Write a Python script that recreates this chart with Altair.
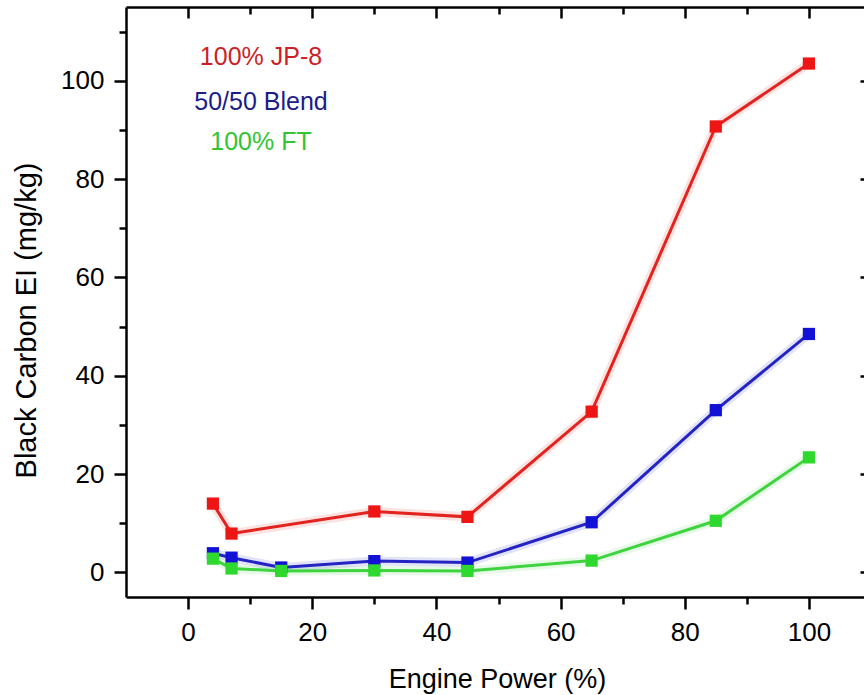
import altair as alt
import pandas as pd

FONT = "Liberation Sans"

fuels = ["100% JP-8", "50/50 Blend", "100% FT"]
line_colors = ["#e2231f", "#2424c4", "#3fd43f"]
marker_colors = ["#ee1515", "#1212d6", "#2ed82e"]
label_colors = ["#cc1f26", "#1c1c8a", "#33c433"]

power_jp8 = [4, 7, 30, 45, 65, 85, 100]
bc_jp8 = [14.0, 7.9, 12.4, 11.3, 32.7, 90.7, 103.5]
power_blend = [4, 7, 15, 30, 45, 65, 85, 100]
bc_blend = [3.9, 3.0, 1.0, 2.3, 2.0, 10.2, 33.0, 48.5]
power_ft = [4, 7, 15, 30, 45, 65, 85, 100]
bc_ft = [2.8, 0.8, 0.3, 0.4, 0.3, 2.4, 10.5, 23.4]

x_ticks = list(range(0, 111, 10))
y_ticks = list(range(0, 111, 10))
x_domain = [-10, 110]
y_domain = [-5, 115]

rows = []
for fuel, xs, ys in zip(fuels, [power_jp8, power_blend, power_ft], [bc_jp8, bc_blend, bc_ft]):
    for x, y in zip(xs, ys):
        rows.append({"fuel": fuel, "power": x, "bc": y})
df = pd.DataFrame(rows)

xscale = alt.Scale(domain=x_domain, range=[0, 745], nice=False, zero=False)
yscale = alt.Scale(domain=y_domain, nice=False, zero=False)

major_expr = "datum.value % 20 === 0"

bottom_axis = alt.Axis(
    values=x_ticks, grid=False,
    labelExpr=f"{major_expr} ? datum.label : ''",
    domainColor="black", domainWidth=2.5,
    tickColor="black", tickWidth=2.5,
    tickSize={"expr": f"{major_expr} ? 12 : 7"},
    labelFont=FONT, labelFontSize=26, labelColor="black", labelPadding=10,
    labelFlush=False, labelOverlap=False,
    title="Engine Power (%)", titleFont=FONT, titleFontSize=27,
    titleFontWeight="normal", titleColor="black",
    titleX=371, titleY=90, titleAlign="center", titleBaseline="alphabetic",
)
left_axis = alt.Axis(
    values=y_ticks, grid=False,
    labelExpr=f"{major_expr} ? datum.label : ''",
    domainColor="black", domainWidth=2.5,
    tickColor="black", tickWidth=2.5,
    tickSize={"expr": f"{major_expr} ? 12 : 7"},
    labelFont=FONT, labelFontSize=26, labelColor="black", labelPadding=10,
    labelFlush=False, labelOverlap=False,
    title="Black Carbon EI (mg/kg)", titleFont=FONT, titleFontSize=29,
    titleFontWeight="normal", titleColor="black",
    titleAngle=270, titleX=-91, titleY=313, titleAlign="center",
    titleBaseline="alphabetic",
)
top_axis = alt.Axis(
    orient="top", values=x_ticks, grid=False, labels=False, title="",
    domainColor="black", domainWidth=2.5,
    tickColor="black", tickWidth=2.5,
    tickSize={"expr": f"{major_expr} ? -11 : -7"},
)
right_axis = alt.Axis(
    orient="right", values=y_ticks, grid=False, labels=False, title="",
    domain=False, offset=7,
    tickColor="black", tickWidth=2.5,
    tickSize={"expr": f"{major_expr} ? -11 : -7"},
)

base = alt.Chart(df).encode(
    x=alt.X("power:Q", scale=xscale, axis=bottom_axis),
    y=alt.Y("bc:Q", scale=yscale, axis=left_axis),
)
stroke_enc = alt.Stroke("fuel:N", scale=alt.Scale(domain=fuels, range=line_colors), legend=None)
halo = base.mark_line(strokeWidth=9, opacity=0.13).encode(stroke=stroke_enc, detail="fuel:N")
lines = base.mark_line(strokeWidth=3).encode(stroke=stroke_enc, detail="fuel:N")
markers = base.mark_square(size=150, opacity=1, strokeWidth=0).encode(
    fill=alt.Fill("fuel:N", scale=alt.Scale(domain=fuels, range=marker_colors), legend=None)
)

legend_y = [58, 103, 143]
legend_layers = [
    alt.Chart(pd.DataFrame({"t": [f]})).mark_text(
        font=FONT, fontSize=25, align="center", baseline="alphabetic", color=c
    ).encode(x=alt.value(135), y=alt.value(yy), text="t:N")
    for f, c, yy in zip(fuels, label_colors, legend_y)
]

main = alt.layer(halo, lines, markers, *legend_layers)

frame = alt.Chart(df).mark_point(opacity=0).encode(
    x=alt.X("power:Q", scale=xscale, axis=top_axis),
    y=alt.Y("bc:Q", scale=yscale, axis=right_axis),
)

chart = alt.layer(main, frame).resolve_axis(
    x="independent", y="independent"
).properties(
    width=738, height=590,
    autosize=alt.AutoSizeParams(type="none"),
    padding={"left": 126, "top": 7, "right": 0, "bottom": 98},
    background="white",
).configure_view(stroke=None)

chart.save("out.html", embed_options={"renderer": "svg", "actions": False})
